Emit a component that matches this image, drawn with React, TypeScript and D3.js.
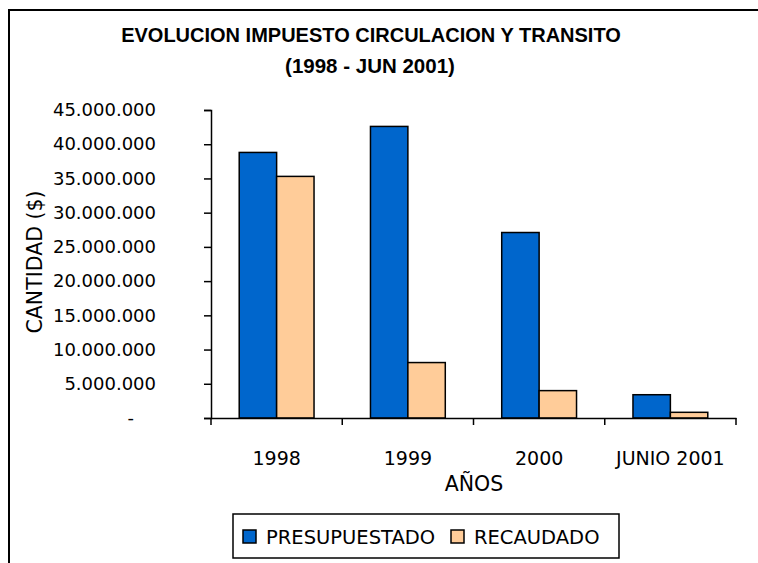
import { useRef, useEffect } from 'react';
import * as d3 from 'd3';

const categories = ['1998', '1999', '2000', 'JUNIO 2001'];
const seriesNames = ['PRESUPUESTADO', 'RECAUDADO'];
const presupuestado = [38800000, 42600000, 27100000, 3400000];
const recaudado = [35300000, 8100000, 4000000, 830000];
const yTicks = [0, 5000000, 10000000, 15000000, 20000000, 25000000, 30000000, 35000000, 40000000, 45000000];

const colors = ['#0066CC', '#FFCC99'];

export default function App() {
    const chartRef = useRef<SVGSVGElement>(null);

    useEffect(() => {
        if (!chartRef.current) return;
        const svg = d3.select(chartRef.current);
        svg.selectAll('*').remove();

        const width = 758;
        const height = 563;
        const font = 'DejaVu Sans, sans-serif';

        svg.attr('width', width).attr('height', height);

        svg.append('rect')
            .attr('width', width)
            .attr('height', height)
            .attr('fill', '#fff');

        // outer frame
        svg.append('rect')
            .attr('x', 9)
            .attr('y', 10)
            .attr('width', 780)
            .attr('height', 580)
            .attr('fill', 'none')
            .attr('stroke', '#000')
            .attr('stroke-width', 2);

        // Title
        svg.append('text')
            .attr('x', 371)
            .attr('y', 42)
            .attr('text-anchor', 'middle')
            .attr('font-family', 'Liberation Sans, Arial, sans-serif')
            .attr('font-weight', 'bold')
            .attr('font-size', '20px')
            .text('EVOLUCION IMPUESTO CIRCULACION Y TRANSITO');
        svg.append('text')
            .attr('x', 370)
            .attr('y', 73)
            .attr('text-anchor', 'middle')
            .attr('font-family', 'Liberation Sans, Arial, sans-serif')
            .attr('font-weight', 'bold')
            .attr('font-size', '20.5px')
            .text('(1998 - JUN 2001)');

        const left = 211;
        const right = 736;
        const top = 110;
        const bottom = 418;

        const data = categories.map((c, i) => ({
            cat: c,
            values: [presupuestado[i], recaudado[i]],
        }));

        // Scales
        const x0 = d3.scaleBand()
            .domain(categories)
            .range([left, right])
            .paddingInner(0.43)
            .paddingOuter(0.215);

        const x1 = d3.scaleBand()
            .domain(seriesNames)
            .range([0, x0.bandwidth()]);

        const y = d3.scaleLinear()
            .domain([0, 45000000])
            .range([bottom, top]);

        // Bars
        const groups = svg.selectAll('.grp')
            .data(data)
            .enter()
            .append('g')
            .attr('transform', d => `translate(${x0(d.cat)},0)`);

        groups.selectAll('rect')
            .data(d => d.values.map((v, i) => ({ name: seriesNames[i], v, i })))
            .enter()
            .append('rect')
            .attr('x', d => x1(d.name)!)
            .attr('y', d => y(d.v))
            .attr('width', x1.bandwidth())
            .attr('height', d => bottom - y(d.v))
            .attr('fill', d => colors[d.i])
            .attr('stroke', '#000')
            .attr('stroke-width', 1.5);

        // Y axis
        const yAxis = svg.append('g')
            .attr('transform', `translate(${left},0)`)
            .call(d3.axisLeft(y)
                .tickValues(yTicks)
                .tickSize(7)
                .tickPadding(48)
                .tickFormat(d => (+d === 0 ? '' : d3.format(',')(+d).replace(/,/g, '.'))));
        yAxis.selectAll('text')
            .attr('fill', '#000')
            .attr('font-family', font)
            .style('font-size', '18px');
        yAxis.selectAll('.domain, .tick line').attr('stroke', '#000').attr('stroke-width', 1.5);

        svg.append('text')
            .attr('x', 134)
            .attr('y', y(0) + 6)
            .attr('text-anchor', 'end')
            .attr('font-family', font)
            .attr('font-size', '18px')
            .text('-');

        // X axis
        const xAxis = svg.append('g')
            .attr('transform', `translate(0,${bottom})`)
            .call(d3.axisBottom(x0).tickSize(0).tickPadding(34));
        xAxis.selectAll('text')
            .attr('fill', '#000')
            .attr('font-family', font)
            .style('font-size', '19px');
        xAxis.select('.domain').attr('stroke', '#000').attr('stroke-width', 1.5);

        // category boundary ticks
        const step = x0.step();
        svg.selectAll('.xtick')
            .data(d3.range(categories.length + 1))
            .enter()
            .append('line')
            .attr('x1', i => left + i * step)
            .attr('x2', i => left + i * step)
            .attr('y1', bottom)
            .attr('y2', bottom + 7)
            .attr('stroke', '#000')
            .attr('stroke-width', 1.5);

        // Axis titles
        svg.append('text')
            .attr('x', 474)
            .attr('y', 491)
            .attr('text-anchor', 'middle')
            .attr('font-family', font)
            .attr('font-size', '20.5px')
            .text('AÑOS');

        svg.append('text')
            .attr('transform', `translate(42,262) rotate(-90)`)
            .attr('text-anchor', 'middle')
            .attr('font-family', font)
            .attr('font-size', '20.5px')
            .text('CANTIDAD ($)');

        // Legend
        const legend = svg.append('g');
        legend.append('rect')
            .attr('x', 233)
            .attr('y', 514)
            .attr('width', 386)
            .attr('height', 44)
            .attr('fill', '#fff')
            .attr('stroke', '#000')
            .attr('stroke-width', 1.5);

        const legendX = [243, 451];
        seriesNames.forEach((name, i) => {
            legend.append('rect')
                .attr('x', legendX[i])
                .attr('y', 530)
                .attr('width', 13)
                .attr('height', 13)
                .attr('fill', colors[i])
                .attr('stroke', '#000')
                .attr('stroke-width', 1.5);
            legend.append('text')
                .attr('x', legendX[i] + 23)
                .attr('y', 544)
                .attr('font-family', font)
                .attr('font-size', '19.5px')
                .text(name);
        });
    }, []);

    return (
        <svg ref={chartRef} style={{ position: 'absolute', left: 0, top: 0 }}></svg>
    );
}
